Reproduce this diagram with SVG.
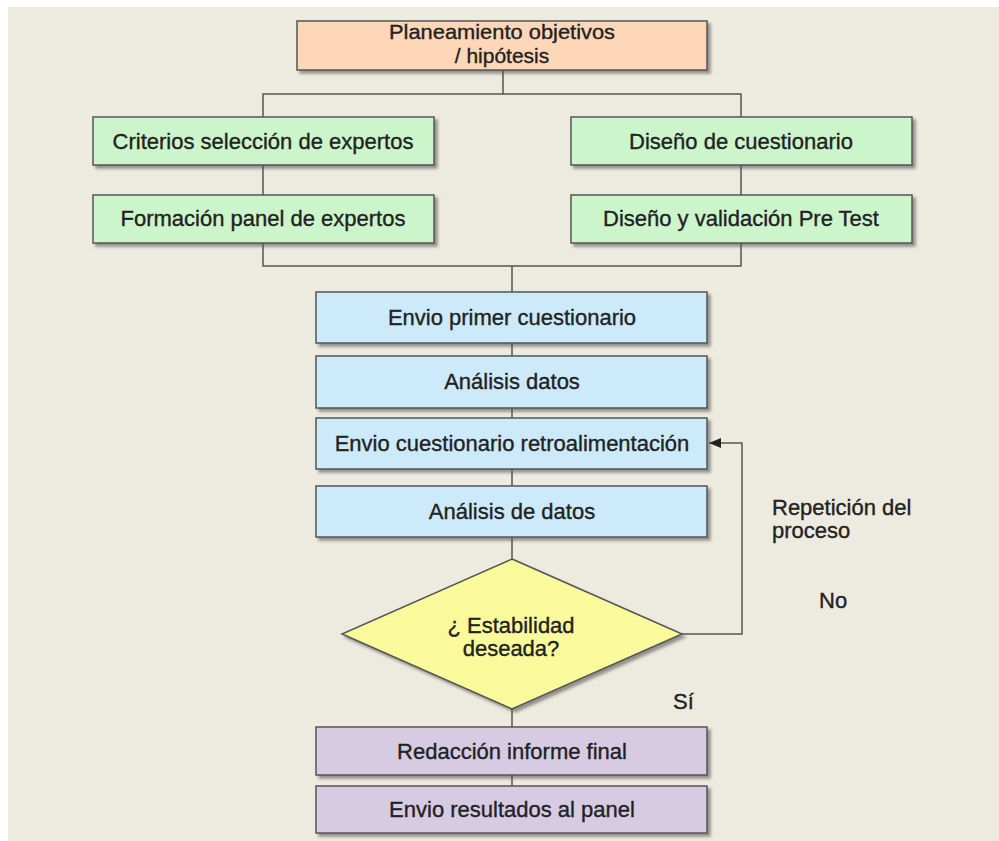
<svg xmlns="http://www.w3.org/2000/svg" width="999" height="841" viewBox="0 0 999 841">
<defs>
<filter id="sh" x="-5%" y="-10%" width="115%" height="140%">
<feDropShadow dx="3" dy="3" stdDeviation="1.5" flood-color="#555" flood-opacity="0.6"/>
</filter>
<marker id="arr" markerWidth="12" markerHeight="10" refX="12" refY="5" orient="auto" markerUnits="userSpaceOnUse">
<path d="M0,0 L12,5 L0,10 Z" fill="#222"/>
</marker>
</defs>
<style>
.box{stroke:#555;stroke-width:1.5;filter:url(#sh)}
.peach{fill:#fdd7b8}
.green{fill:#cdf5cc}
.blue{fill:#cdeafb}
.purple{fill:#d6cbe2}
.yellow{fill:#fafa9c}
.t{font-family:"Liberation Sans",Arial,sans-serif;font-size:22px;fill:#222;stroke:#222;stroke-width:0.35;text-anchor:middle}
.ts{font-size:21px}
.lbl{font-family:"Liberation Sans",Arial,sans-serif;font-size:22px;fill:#222;stroke:#222;stroke-width:0.35}
.ln{stroke:#555;stroke-width:1.5;fill:none}
</style>
<rect x="0" y="0" width="999" height="841" fill="#ffffff"/>
<rect x="8" y="7" width="991" height="834" fill="#edeadf"/>

<g id="connectors">
<line class="ln" x1="503" y1="70" x2="503" y2="94"/>
<polyline class="ln" points="263,141 263,94 741,94 741,141"/>
<polyline class="ln" points="263,141 263,266 741,266 741,141"/>
<line class="ln" x1="512" y1="266" x2="512" y2="786"/>
<polyline class="ln" points="682,634 742,634 742,443 709,443" marker-end="url(#arr)"/>
</g>

<g id="n_plan">
<rect class="box peach" x="297" y="21" width="410" height="49"/>
<text class="t ts" x="502" y="39" textLength="226" lengthAdjust="spacingAndGlyphs">Planeamiento  objetivos</text>
<text class="t ts" x="502" y="63">/ hipótesis</text>
</g>
<g id="n_criterios">
<rect class="box green" x="93" y="117" width="341" height="48"/>
<text class="t" x="263" y="149">Criterios selección de expertos</text>
</g>
<g id="n_formacion">
<rect class="box green" x="93" y="195" width="341" height="48"/>
<text class="t" x="263" y="226">Formación panel de expertos</text>
</g>
<g id="n_diseno">
<rect class="box green" x="571" y="117" width="341" height="48"/>
<text class="t" x="741" y="149">Diseño de cuestionario</text>
</g>
<g id="n_pretest">
<rect class="box green" x="571" y="195" width="341" height="48"/>
<text class="t" x="741" y="226">Diseño y validación Pre Test</text>
</g>
<g id="n_envio1">
<rect class="box blue" x="316" y="292" width="391" height="51"/>
<text class="t" x="512" y="325">Envio primer cuestionario</text>
</g>
<g id="n_analisis1">
<rect class="box blue" x="316" y="356" width="391" height="52"/>
<text class="t" x="512" y="389">Análisis datos</text>
</g>
<g id="n_envio2">
<rect class="box blue" x="316" y="418" width="391" height="51"/>
<text class="t" x="512" y="451">Envio cuestionario retroalimentación</text>
</g>
<g id="n_analisis2">
<rect class="box blue" x="316" y="486" width="391" height="51"/>
<text class="t" x="512" y="519">Análisis de datos</text>
</g>
<g id="n_decision">
<polygon class="box yellow" points="512,559 682,634 512,709 342,634"/>
<text class="t" x="511" y="633">¿ Estabilidad</text>
<text class="t" x="511" y="656">deseada?</text>
</g>
<g id="n_redaccion">
<rect class="box purple" x="316" y="727" width="391" height="48"/>
<text class="t" x="512" y="759">Redacción informe final</text>
</g>
<g id="n_resultados">
<rect class="box purple" x="316" y="786" width="391" height="47"/>
<text class="t" x="512" y="817">Envio resultados al panel</text>
</g>

<g id="labels">
<text class="lbl" x="772" y="515">Repetición del</text>
<text class="lbl" x="772" y="538">proceso</text>
<text class="lbl" x="819" y="608">No</text>
<text class="lbl" x="673" y="709">Sí</text>
</g>
</svg>
